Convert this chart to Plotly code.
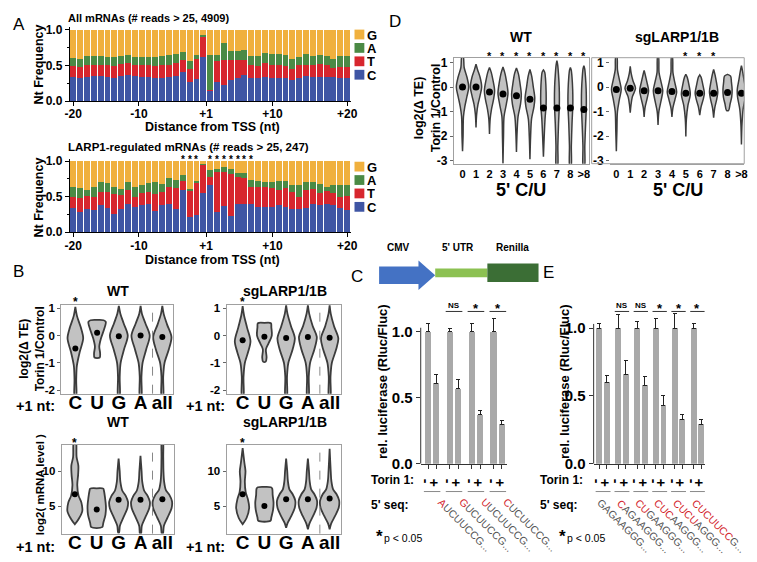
import plotly.graph_objects as go

W, H = 757, 562
FONT = "Liberation Sans, Arial, Helvetica, sans-serif"

# ---------------- data ----------------
# Panel A: nucleotide frequency at each position around the TSS (41 positions)
nt_ticklabels = ['-20', '-10', '+1', '+10', '+20']
nt_tickpos = [0, 9.6, 19.4, 29.1, 40]

all_C = [.33, .32, .34, .35, .35, .34, .32, .35, .37, .35, .34, .33, .32, .32, .33, .35, .41, .26, .31, .61, .15,
         .26, .23, .30, .32, .36, .32, .32, .34, .32, .32, .32, .30, .32, .35, .34, .34, .34, .33, .32, .32]
all_T = [.16, .15, .16, .16, .16, .16, .17, .17, .16, .15, .16, .17, .17, .19, .18, .18, .16, .19, .28, .29, .01,
         .30, .34, .27, .25, .22, .18, .17, .19, .19, .19, .17, .15, .18, .16, .16, .18, .16, .13, .15, .16]
all_A = [.11, .12, .13, .12, .12, .12, .12, .11, .11, .11, .12, .12, .13, .12, .13, .13, .12, .11, .06, .03, .49,
         .09, .24, .13, .13, .13, .13, .14, .14, .15, .15, .16, .14, .11, .15, .13, .13, .13, .13, .16, .15]
all_G = [.40, .41, .37, .37, .37, .38, .39, .37, .36, .39, .38, .38, .38, .37, .36, .34, .31, .44, .35, .07, .35,
         .35, .19, .30, .30, .29, .37, .37, .33, .34, .34, .35, .41, .39, .34, .37, .35, .37, .41, .37, .37]

larp_C = [.34, .29, .33, .31, .38, .34, .26, .32, .40, .35, .38, .39, .30, .38, .40, .32, .60, .21, .24, .55, .66,
          .29, .37, .23, .40, .40, .40, .35, .35, .35, .38, .35, .33, .32, .34, .39, .38, .39, .38, .34, .31]
larp_T = [.16, .19, .18, .18, .19, .23, .27, .20, .19, .15, .17, .17, .24, .18, .24, .30, .12, .38, .45, .40, .12,
          .56, .47, .59, .37, .36, .23, .28, .28, .27, .22, .27, .24, .17, .26, .22, .17, .19, .17, .16, .20]
larp_A = [.14, .14, .09, .14, .13, .12, .10, .09, .11, .13, .12, .13, .16, .12, .12, .11, .08, .02, .03, .01, .09,
          .04, .08, .07, .06, .07, .10, .09, .08, .08, .12, .10, .10, .17, .11, .10, .13, .06, .12, .17, .16]
larp_G = [.36, .38, .40, .37, .30, .31, .37, .39, .30, .37, .33, .31, .30, .32, .24, .27, .20, .39, .28, .04, .13,
          .11, .08, .11, .17, .17, .27, .28, .29, .30, .28, .28, .33, .34, .29, .29, .32, .36, .33, .33, .33]
larp_sig_pos = [16, 17, 18, 20, 21, 22, 23, 24, 25, 26]

nt_names = ['C', 'T', 'A', 'G']
nt_colors = {'G': '#F0B03E', 'A': '#4B8A45', 'T': '#D7262E', 'C': '#3F55A4'}

# Panel B: violin outlines, [y, half-width] from bottom to top
b_cats = ['C', 'U', 'G', 'A', 'all']
b_te_wt = [
    [[-2.3, .03], [-1.6, .04], [-1.1, .07], [-.6, .2], [-.1, .36], [.3, .25], [.7, .08], [1.05, 0]],
    [[-.8, .12], [-.65, .14], [-.4, .1], [-.1, .18], [.25, .33], [.5, .4], [.56, .3], [.57, 0]],
    [[-2.3, .03], [-1.5, .04], [-1., .08], [-.5, .24], [0, .41], [.45, .22], [.8, .07], [1.08, 0]],
    [[-2.3, .03], [-1.5, .04], [-1., .09], [-.5, .26], [0, .42], [.45, .22], [.8, .06], [1.08, 0]],
    [[-2.3, .03], [-1.5, .04], [-1., .1], [-.5, .3], [-.05, .42], [.4, .22], [.8, .06], [1.08, 0]],
]
b_te_wt_med = [-0.47, 0.1, -0.02, 0.0, -0.05]
b_te_sg = [
    [[-2.3, .03], [-1.5, .04], [-1., .1], [-.6, .25], [-.2, .36], [.3, .2], [.75, .06], [1.08, 0]],
    [[-.95, .06], [-.8, .1], [-.5, .07], [-.3, .18], [0, .34], [.3, .32], [.45, .3], [.46, 0]],
    [[-2.3, .03], [-1.5, .04], [-1., .1], [-.5, .3], [-.1, .4], [.35, .22], [.8, .06], [1.1, 0]],
    [[-2.3, .03], [-1.5, .04], [-1., .1], [-.5, .3], [-.05, .41], [.35, .22], [.8, .06], [1.1, 0]],
    [[-2.3, .03], [-1.5, .04], [-1., .1], [-.5, .3], [-.1, .4], [.35, .2], [.8, .05], [1.1, 0]],
]
b_te_sg_med = [-0.17, -0.04, -0.09, -0.05, -0.08]
b_mrna_wt = [
    [[2.4, 0], [3.2, .18], [4.3, .34], [5.5, .3], [6.5, .17], [8, .11], [9.5, .15], [10.8, .16], [12, .08], [14.5, .04]],
    [[2.0, .25], [2.6, .3], [3.8, .4], [5.0, .42], [6.2, .38], [7.2, .33], [7.5, .3], [7.55, 0]],
    [[1.2, .02], [2.2, .06], [3.4, .22], [4.7, .4], [5.6, .43], [6.5, .32], [7.2, .17], [8.5, .08], [10, .05], [11.8, 0]],
    [[1.0, .02], [2.2, .06], [3.4, .22], [4.7, .4], [5.6, .43], [6.5, .32], [7.2, .17], [8.5, .08], [10, .05], [12.2, 0]],
    [[1.0, .02], [2.2, .07], [3.4, .24], [4.7, .42], [5.7, .44], [6.6, .32], [7.3, .16], [8.5, .08], [10, .05], [12, .04], [14.5, .02]],
]
b_mrna_wt_med = [6.7, 4.5, 5.9, 5.9, 6.0]
b_mrna_sg = [
    [[2.4, 0], [3.3, .18], [4.8, .3], [6, .24], [7, .14], [8.5, .1], [10, .13], [11.2, .08], [13.3, 0]],
    [[2.9, .28], [3.4, .32], [4.5, .4], [5.5, .42], [6.6, .38], [7.5, .36], [7.7, .3], [7.75, 0]],
    [[1.9, 0], [2.6, .07], [3.6, .24], [4.8, .4], [5.8, .42], [6.7, .3], [7.4, .15], [8.6, .08], [10, .05], [11.8, 0]],
    [[1.7, 0], [2.5, .07], [3.6, .24], [4.8, .4], [5.8, .42], [6.7, .3], [7.4, .15], [8.6, .08], [10, .05], [11.8, 0]],
    [[1.7, 0], [2.5, .07], [3.6, .25], [4.8, .42], [5.8, .44], [6.7, .32], [7.4, .16], [8.6, .08], [10, .05], [13.2, 0]],
]
b_mrna_sg_med = [6.7, 5.0, 6.0, 6.0, 6.1]

# Panel D: log2(dTE) by number of 5' C/U
d_cats = ['0', '1', '2', '3', '4', '5', '6', '7', '8', '>8']
d_wt = [
    [[-2.62, 0], [-2., .04], [-1.2, .07], [-.8, .17], [-.4, .32], [0, .46], [.4, .33], [.8, .12], [1.25, .05]],
    [[-1.65, 0], [-1.1, .05], [-.7, .15], [-.35, .3], [0, .42], [.4, .3], [.7, .12], [.93, 0]],
    [[-1.92, 0], [-1.3, .05], [-.9, .15], [-.5, .3], [-.15, .38], [.3, .25], [.6, .13], [.8, 0]],
    [[-3.12, 0], [-2., .04], [-1.2, .08], [-.7, .25], [-.25, .37], [.2, .27], [.55, .15], [.82, 0]],
    [[-2.65, 0], [-1.8, .05], [-1.2, .12], [-.7, .3], [-.3, .36], [.2, .25], [.55, .14], [.78, 0]],
    [[-2.95, 0], [-2., .05], [-1.3, .12], [-.8, .3], [-.45, .36], [0, .25], [.45, .13], [.72, 0]],
    [[-2.85, 0], [-2., .06], [-1.3, .12], [-.7, .2], [-.2, .2], [.3, .16], [.6, .1], [.7, 0]],
    [[-3.3, .04], [-2.4, .07], [-1.5, .12], [-.7, .18], [0, .17], [.5, .12], [.9, .06], [1.08, 0]],
    [[-3.3, .04], [-2.4, .07], [-1.5, .12], [-.7, .18], [-.1, .17], [.4, .12], [.7, .06], [.8, 0]],
    [[-3.3, .04], [-2.4, .07], [-1.5, .13], [-.8, .18], [-.1, .17], [.4, .12], [.75, .06], [.87, 0]],
]
d_wt_med = [0, 0, -0.2, -0.28, -0.35, -0.5, -0.85, -0.85, -0.85, -0.92]
d_wt_sig = [2, 3, 4, 5, 6, 7, 8, 9]
d_sg = [
    [[-2.62, 0], [-1.8, .04], [-1., .08], [-.5, .22], [-.1, .35], [.3, .22], [.7, .08], [1.25, .04]],
    [[-1.05, 0], [-.75, .05], [-.4, .15], [-.05, .38], [.25, .2], [.55, .07], [.85, 0]],
    [[-1.22, 0], [-.85, .06], [-.5, .2], [-.15, .32], [.2, .2], [.5, .08], [.68, 0]],
    [[-1.55, 0], [-1., .06], [-.55, .22], [-.15, .34], [.25, .2], [.6, .07], [1.25, .03]],
    [[-1.22, 0], [-.85, .07], [-.5, .22], [-.2, .34], [.2, .2], [.6, .07], [1.25, .03]],
    [[-2.02, 0], [-1.3, .04], [-.75, .15], [-.3, .32], [.1, .22], [.4, .1], [.52, 0]],
    [[-1.15, 0], [-.8, .1], [-.5, .25], [-.25, .33], [.1, .22], [.4, .1], [.5, 0]],
    [[-1.25, 0], [-.85, .08], [-.5, .22], [-.2, .3], [.2, .2], [.5, .1], [.72, 0]],
    [[-.95, .08], [-.7, .18], [-.4, .3], [-.1, .33], [.2, .28], [.45, .22], [.52, 0]],
    [[-2.35, 0], [-1.5, .04], [-.9, .12], [-.4, .28], [-.1, .3], [.3, .18], [.65, .08], [.87, 0]],
]
d_sg_med = [-0.1, -0.05, -0.15, -0.15, -0.18, -0.25, -0.25, -0.25, -0.22, -0.25]
d_sg_sig = [5, 6, 7]

# Panel C / E: luciferase reporters, Torin 1 - / +
c_minus = [1.0, 1.0, 1.0, 1.0]
c_minus_err = [0.065, 0.025, 0.065, 0.10]
c_plus = [0.61, 0.57, 0.37, 0.30]
c_plus_err = [0.065, 0.07, 0.035, 0.025]
c_sig = ['', 'NS', '*', '*']
c_seq_red = ['A', 'G', 'U', 'C']
c_seq_rest = ['UCUUCCG...', 'UCUUCCG...', 'UCUUCCG...', 'UCUUCCG...']

e_minus = [1.0, 1.0, 1.0, 1.0, 1.0, 1.0]
e_minus_err = [0.03, 0.10, 0.05, 0.07, 0.11, 0.03]
e_plus = [0.60, 0.66, 0.58, 0.43, 0.33, 0.29]
e_plus_err = [0.05, 0.10, 0.06, 0.07, 0.03, 0.04]
e_sig = ['', 'NS', 'NS', '*', '*', '*']
e_seq_red = ['', 'C', 'CU', 'CUC', 'CUCU', 'CUCUUCC']
e_seq_rest = ['GAGAAGGG...', 'AGAAGGG...', 'GAAGGG...', 'AAGGG...', 'AGGG...', 'G...']


# ---------------- helpers ----------------
def dx(a, b):
    return [a / W, b / W]


def dy(top, bottom):
    return [1 - bottom / H, 1 - top / H]


def note(text, x, y, size, bold=True, color='black', xanchor='center', yanchor='middle',
         angle=0, xref='paper', yref='paper', height=None):
    # x / y are picture pixels whenever the reference is 'paper'
    if xref == 'paper':
        x = x / W
    if yref == 'paper':
        y = 1 - y / H
    d = dict(text=text, x=x, y=y, xref=xref, yref=yref, showarrow=False,
             xanchor=xanchor, yanchor=yanchor, textangle=angle,
             font=dict(family=FONT, size=size, color=color, weight='bold' if bold else 'normal'))
    if height:
        d['height'] = height
        d['borderpad'] = 0
    return d


def px_rect(x0, y0, x1, y1, fill=None, line=None):
    return dict(type='rect', xref='paper', yref='paper', x0=x0 / W, x1=x1 / W, y0=1 - y1 / H, y1=1 - y0 / H,
                fillcolor=fill, line=dict(color=line or 'rgba(0,0,0,0)', width=1 if line else 0))


def violin(center, knots, xa, ya, fill, edge, lw):
    ys = [k[0] for k in knots]
    ws = [k[1] for k in knots]
    xs = [center + w for w in ws] + [center - w for w in ws[::-1]]
    yy = ys + ys[::-1]
    xs.append(xs[0])
    yy.append(yy[0])
    return go.Scatter(x=xs, y=yy, mode='lines', fill='toself', fillcolor=fill,
                      line=dict(color=edge, width=lw, shape='spline', smoothing=0.9),
                      xaxis=xa, yaxis=ya, hoverinfo='skip', showlegend=False)


fig = go.Figure()
annotations = []
shapes = []

# ---------------- Panel A ----------------
for n, (C, T, A, G) in [(1, (all_C, all_T, all_A, all_G)), (2, (larp_C, larp_T, larp_A, larp_G))]:
    xa = 'x' if n == 1 else 'x2'
    ya = 'y' if n == 1 else 'y2'
    for name, vals in zip(nt_names, (C, T, A, G)):
        fig.add_trace(go.Bar(x=list(range(len(vals))), y=vals, width=0.86, marker_color=nt_colors[name],
                             marker_line_width=0, xaxis=xa, yaxis=ya, showlegend=False, hoverinfo='skip'))

a_axis_x = dict(range=[-0.5, 40.5], showline=True, linecolor='black', linewidth=1, ticks='outside', ticklen=4,
                tickcolor='black', tickvals=nt_tickpos, ticktext=nt_ticklabels, showgrid=False, zeroline=False,
                ticklabelstandoff=-2, tickfont=dict(family=FONT, size=12, weight='bold'))
a_axis_y = dict(showline=True, linecolor='black', linewidth=1, ticks='outside', ticklen=4, tickcolor='black',
                tickvals=[0, 0.5, 1], ticktext=['0.0', '0.5', '1.0'], showgrid=False, zeroline=False,
                minor=dict(ticks='outside', ticklen=2, dtick=0.25, tickcolor='black'),
                tickfont=dict(family=FONT, size=12, weight='bold'))
layout_axes = {
    'xaxis': dict(a_axis_x, domain=dx(57.7, 343), anchor='y'),
    'yaxis': dict(a_axis_y, domain=dy(15, 91), range=[0, 1.041], anchor='x'),
    'xaxis2': dict(a_axis_x, domain=dx(57.7, 343), anchor='y2'),
    'yaxis2': dict(a_axis_y, domain=dy(150, 225), range=[0, 1.032], anchor='x2'),
}

annotations += [
    note('A', 6, 13, 17, bold=False),
    note('All mRNAs (# reads > 25, 4909)', 54, 6, 11, xanchor='left'),
    note('LARP1-regulated mRNAs (# reads > 25, 247)', 54, 138, 11.5, xanchor='left'),
    note('Nt Frequency', 26, 54, 12.5, angle=-90),
    note('Nt Frequency', 26, 190, 12.5, angle=-90),
    note('Distance from TSS (nt)', 203, 118, 12.5),
    note('Distance from TSS (nt)', 203, 253, 12.5),
]
for top in (18, 153):
    for k, name in enumerate(['G', 'A', 'T', 'C']):
        y0 = top + k * 13.7
        shapes.append(px_rect(347, y0, 357, y0 + 10, fill=nt_colors[name]))
        annotations.append(note(name, 359, y0 + 5, 13, xanchor='left', height=12))
for p in larp_sig_pos:
    annotations.append(note('*', p, 151, 10, xref='x2'))

# ---------------- Panel B ----------------
VIOL_FILL = '#c2c2c2'
VIOL_EDGE = '#3c3c3c'
FRAME = '#a0a0a0'

b_sets = [(3, b_te_wt, b_te_wt_med), (4, b_te_sg, b_te_sg_med),
          (5, b_mrna_wt, b_mrna_wt_med), (6, b_mrna_sg, b_mrna_sg_med)]
for n, shapes_list, meds in b_sets:
    for i, knots in enumerate(shapes_list):
        fig.add_trace(violin(i, knots, f'x{n}', f'y{n}', VIOL_FILL, VIOL_EDGE, 1.8))
    fig.add_trace(go.Scatter(x=list(range(len(meds))), y=meds, mode='markers',
                             marker=dict(color='black', size=6), xaxis=f'x{n}', yaxis=f'y{n}',
                             showlegend=False, hoverinfo='skip'))
    shapes.append(dict(type='line', xref=f'x{n}', yref=f'y{n} domain', x0=3.55, x1=3.55, y0=0, y1=1,
                       line=dict(color='#888888', width=1, dash='dash')))

b_x = dict(showline=True, mirror=True, linecolor=FRAME, linewidth=1, ticks='', showgrid=False, zeroline=False,
           tickvals=list(range(5)), ticktext=b_cats, ticklabelstandoff=-8,
           tickfont=dict(family=FONT, size=19, weight='bold'))
b_y = dict(showline=True, mirror=True, linecolor=FRAME, linewidth=1, ticks='outside', ticklen=3,
           tickcolor='#666666', showgrid=False, zeroline=False,
           tickfont=dict(family=FONT, size=11.5, weight='bold'))
te_ticks = dict(tickvals=[-2, -1, 0, 1], ticktext=['-2', '-1', '0', '1'], range=[-2.12, 1.13])
mr_ticks = dict(tickvals=[5, 10], ticktext=['5', '10'], range=[1.07, 13.8])
layout_axes.update({
    'xaxis3': dict(b_x, domain=dx(49, 163), range=[-0.65, 4.51], anchor='y3'),
    'yaxis3': dict(b_y, **te_ticks, domain=dy(299, 390), anchor='x3'),
    'xaxis4': dict(b_x, domain=dx(217, 333), range=[-0.74, 4.51], anchor='y4'),
    'yaxis4': dict(b_y, **te_ticks, domain=dy(299, 390), anchor='x4'),
    'xaxis5': dict(b_x, domain=dx(49.5, 164), range=[-0.6, 4.55], anchor='y5'),
    'yaxis5': dict(b_y, **mr_ticks, domain=dy(442, 533), anchor='x5'),
    'xaxis6': dict(b_x, domain=dx(217, 333), range=[-0.74, 4.51], anchor='y6'),
    'yaxis6': dict(b_y, **mr_ticks, domain=dy(442, 533), anchor='x6'),
})
annotations += [
    note('B', 6, 265, 17, bold=False),
    note('WT', 107, 285, 14), note('sgLARP1/1B', 276, 285, 14),
    note('WT', 107, 419, 14), note('sgLARP1/1B', 276, 419, 14),
    note('+1 nt:', 23, 403, 14.5), note('+1 nt:', 196, 403, 14.5),
    note('+1 nt:', 23, 547, 14.5), note('+1 nt:', 196, 547, 14.5),
    note('log2(Δ TE)<br>Torin 1/Control', 19, 344, 12, angle=-90),
    note('log2( mRNA level )', 27, 483, 11.5, angle=-90),
    note('*', 0, 296, 12, xref='x3'),
    note('*', 0, 296, 12, xref='x4'),
    note('*', 0, 440, 12, xref='x5'),
    note('*', 0, 440, 12, xref='x6'),
]

# ---------------- Panel D ----------------
for n, vset, meds, sig in [(7, d_wt, d_wt_med, d_wt_sig), (8, d_sg, d_sg_med, d_sg_sig)]:
    for i, knots in enumerate(vset):
        fig.add_trace(violin(i, knots, f'x{n}', f'y{n}', VIOL_FILL, VIOL_EDGE, 1.5))
    fig.add_trace(go.Scatter(x=list(range(len(meds))), y=meds, mode='markers',
                             marker=dict(color='black', size=7), xaxis=f'x{n}', yaxis=f'y{n}',
                             showlegend=False, hoverinfo='skip'))
    for i in sig:
        annotations.append(note('*', i, 45, 11, xref=f'x{n}'))

d_x = dict(showline=True, mirror=True, linecolor=FRAME, linewidth=1, ticks='', showgrid=False, zeroline=False,
           tickvals=list(range(10)), ticktext=d_cats, tickfont=dict(family=FONT, size=11, weight='bold'))
d_y = dict(ticks='outside', ticklen=3, tickcolor='#666666', showgrid=False, zeroline=False,
           tickvals=[-3, -2, -1, 0, 1], ticktext=['-3', '-2', '-1', '0', '1'], range=[-3.13, 1.2],
           tickfont=dict(family=FONT, size=12, weight='bold'))
layout_axes.update({
    'xaxis7': dict(d_x, domain=dx(448, 585), range=[-0.64, 9.36], anchor='y7'),
    'yaxis7': dict(d_y, showline=True, mirror=True, linecolor=FRAME, domain=dy(46.7, 155), anchor='x7'),
    'xaxis8': dict(d_x, domain=dx(606.7, 743), range=[-0.45, 9.2], anchor='y8', mirror=False),
    'yaxis8': dict(d_y, showline=False, domain=dy(46.7, 155), anchor='x8'),
})
shapes.append(px_rect(588, 46.7, 743, 155, line=FRAME))
annotations += [
    note('D', 388, 10, 17, bold=False),
    note('WT', 516, 26, 14), note('sgLARP1/1B', 675, 26, 14),
    note("5' C/U", 516, 182, 18), note("5' C/U", 676, 182, 18),
    note('log2(Δ TE)<br>Torin 1/Control', 421, 98, 12.5, angle=-90),
]

# ---------------- Panels C and E ----------------
BAR_COL = '#a9a9a9'


def lucif_panel(n, minus, minus_err, plus, plus_err, sig, red, rest, off, width, xdom, xrange_,
                seq_dx, seq_y):
    xa, ya = f'x{n}', f'y{n}'
    idx = list(range(len(minus)))
    xm = [i - off for i in idx]
    xp = [i + off for i in idx]
    for xs, vals, err in [(xm, minus, minus_err), (xp, plus, plus_err)]:
        fig.add_trace(go.Bar(x=xs, y=vals, width=width, marker_color=BAR_COL, marker_line_width=0,
                             error_y=dict(type='data', array=err, arrayminus=[0] * len(err), symmetric=False,
                                          color='#222222', thickness=1, width=2),
                             xaxis=xa, yaxis=ya, showlegend=False, hoverinfo='skip'))
    shapes.append(dict(type='line', xref=f'{xa} domain', yref=ya, x0=0, x1=0, y0=0, y1=1.03,
                       line=dict(color='#333333', width=1)))
    unit = (xdom[1] - xdom[0]) / (xrange_[1] - xrange_[0])
    for i in idx:
        shapes.append(dict(type='line', xref=xa, yref='paper', x0=i - off - width / 2 - 0.04,
                           x1=i + off + width / 2 + 0.04, y0=1 - 490 / H, y1=1 - 490 / H,
                           line=dict(color='#8a8a8a', width=1)))
        if sig[i]:
            shapes.append(dict(type='line', xref=xa, yref='paper', x0=i - 0.38, x1=i + 0.38,
                               y0=1 - 306 / H, y1=1 - 306 / H, line=dict(color='#333333', width=1)))
            if sig[i] == 'NS':
                annotations.append(note('NS', i, 300, 8, xref=xa))
            else:
                annotations.append(note('*', i, 303, 13, xref=xa))
        # rotated sequence label, centred a little right of its bar pair (paper pixels)
        cx_px = xdom[0] + (i - xrange_[0]) * unit + seq_dx
        seq = (f'<span style="color:#d3232b">{red[i]}</span>' if red[i] else '') + rest[i]
        annotations.append(note(seq, cx_px, seq_y, 10.5, bold=False, color='#555555', angle=45))
    xticks = sorted(xm + xp)
    return (dict(showline=True, linecolor='#333333', linewidth=1, ticks='outside', ticklen=4, tickcolor='#333333',
                 tickvals=xticks, ticktext=['-', '+'] * len(idx), showgrid=False, zeroline=False,
                 tickfont=dict(family=FONT, size=14, weight='bold'), anchor=ya,
                 domain=dx(*xdom), range=xrange_),
            dict(showline=False, ticks='outside', ticklen=4, tickcolor='#333333', tickvals=[0, 0.5, 1],
                 ticktext=['0.0', '0.5', '1.0'], showgrid=False, zeroline=False,
                 tickfont=dict(family=FONT, size=15, weight='bold'), anchor=xa))


cx, cy = lucif_panel(9, c_minus, c_minus_err, c_plus, c_plus_err, c_sig, c_seq_red, c_seq_rest,
                     0.186, 0.30, (414.3, 502), [-0.52, 3.42], 33, 524)
ex, ey = lucif_panel(10, e_minus, e_minus_err, e_plus, e_plus_err, e_sig, e_seq_red, e_seq_rest,
                     0.2, 0.31, (590, 703.3), [-0.5, 5.41], 22, 525)
layout_axes.update({
    'xaxis9': cx,
    'yaxis9': dict(cy, domain=dy(308, 461.7), range=[0, 1.1385]),
    'xaxis10': ex,
    'yaxis10': dict(ey, domain=dy(305, 461.7), range=[0, 1.129]),
})

for xr, tr, sr, pl in [(409, 376, 404, 367), (581, 561, 576, 553)]:
    annotations += [
        note('Torin 1:', xr, 478, 12, xanchor='right'),
        note("5' seq:", sr, 504, 12, xanchor='right'),
        note('rel. luciferase (Rluc/Fluc)', tr, 378, 13, angle=-90),
        note('*', pl, 536, 17, xanchor='left'),
        note('p &lt; 0.05', pl + 8, 537, 10.5, bold=False, xanchor='left'),
    ]

# construct schematic above panel C
arrow = [(372, 260), (412, 260), (412, 254), (429, 269), (412, 284), (412, 278), (372, 278)]
path = 'M ' + ' L '.join(f'{x / W:.5f},{1 - y / H:.5f}' for x, y in arrow) + ' Z'
shapes.append(dict(type='path', xref='paper', yref='paper', path=path, fillcolor='#4472C4', line=dict(width=0)))
shapes.append(px_rect(429, 262, 482, 271, fill='#8CC152'))
shapes.append(px_rect(482, 257, 534, 276, fill='#3B6E35'))
annotations += [
    note('C', 350, 270, 17, bold=False),
    note('E', 544, 266, 17, bold=False),
    note('CMV', 392, 241, 10),
    note("5' UTR", 452, 241, 10),
    note('Renilla', 508, 241, 10),
]

fig.update_layout(
    width=W, height=H, margin=dict(l=0, r=0, t=0, b=0),
    paper_bgcolor='white', plot_bgcolor='white', barmode='stack', showlegend=False,
    font=dict(family=FONT, color='black'),
    annotations=annotations, shapes=shapes, **layout_axes,
)

fig.write_html("out.html")
